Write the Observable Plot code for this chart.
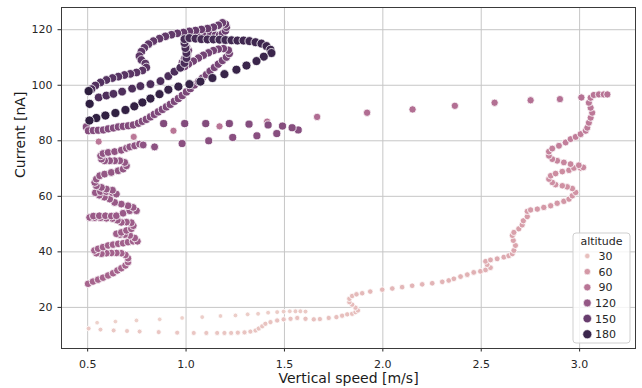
<!DOCTYPE html>
<html>
<head>
<meta charset="utf-8">
<script src="https://cdn.jsdelivr.net/npm/d3@7"></script>
<script src="https://cdn.jsdelivr.net/npm/@observablehq/plot@0.6"></script>
<style>
  body { margin: 0; background: #fff; }
  #chart { width: 642px; height: 388px; }
</style>
</head>
<body>
<div id="chart"></div>
<script>
// ---- data ----
const speed = [
  // low rows
  0.548,0.641,0.748,0.866,0.980,1.082,1.175,1.251,1.313,1.366,1.417,1.463,1.496,1.527,1.556,1.581,1.607,
  0.505,0.565,0.632,0.700,0.764,0.861,0.955,1.039,1.103,1.158,
  1.195,1.229,1.263,1.297,1.327,1.353,1.369,1.387,1.403,1.429,
  1.463,1.496,1.531,1.565,1.607,1.649,1.680,1.725,1.764,1.793,
  1.819,1.844,1.861,1.873,1.861,1.844,1.830,1.830,1.844,1.866,
  1.895,1.936,1.997,2.048,2.098,2.149,2.200,2.251,2.302,2.335,
  2.361,2.395,2.429,2.462,2.496,2.522,2.547,2.530,2.522,2.547,
  2.581,2.615,2.640,2.658,2.666,2.674,2.663,2.658,2.666,2.691,
  2.708,2.714,2.734,2.734,2.751,2.785,2.818,2.853,2.886,2.920,
  2.946,2.963,2.980,2.963,2.937,2.912,2.878,2.861,2.844,2.853,
  2.878,2.912,2.946,2.971,3.005,3.019,2.996,2.954,2.920,2.886,
  2.861,2.844,2.844,2.861,2.895,2.929,2.954,2.980,3.005,3.031,
  3.039,3.047,3.056,3.064,3.056,3.047,3.056,3.072,3.098,3.123,3.141,
  // sparse row
  3.009,2.900,2.751,2.568,2.366,2.151,1.920,1.666,1.412,1.170,0.936,0.734,0.556,
  // left cluster
  0.502,0.527,0.553,0.578,0.604,0.629,0.651,0.671,0.692,0.705,
  0.705,0.692,0.671,0.646,0.620,0.595,0.570,0.544,0.534,0.553,
  0.578,0.604,0.629,0.655,0.680,0.705,0.731,0.753,0.739,0.714,
  0.688,0.663,0.646,0.671,0.697,0.722,0.732,0.722,0.697,0.671,
  0.651,0.626,0.595,0.565,0.534,0.510,0.529,0.559,0.590,0.620,
  0.646,0.680,0.714,0.748,0.731,0.705,0.671,0.637,0.612,0.585,
  0.559,0.539,0.565,0.595,0.626,0.646,0.626,0.595,0.570,0.544,
  0.536,0.544,0.561,0.586,0.620,0.655,0.680,0.697,0.688,0.663,
  0.637,0.612,0.586,0.570,0.566,0.578,0.604,0.637,0.671,0.697,
  0.714,0.739,0.764,0.782,
  // purple sparse rows
  0.840,0.980,1.115,1.237,1.360,1.461,1.570,1.539,1.490,1.417,1.320,1.220,1.100,0.993,0.886,
  // top cluster
  0.493,0.504,0.529,0.554,0.580,0.605,0.631,0.656,0.681,0.707,0.732,0.758,0.778,0.798,0.819,
  0.839,0.859,0.880,0.900,0.920,0.941,0.961,0.981,1.002,1.022,1.042,1.063,1.083,1.103,1.122,
  1.144,1.164,1.185,1.205,1.220,1.215,1.190,1.164,1.139,1.114,1.088,1.063,1.037,1.012,0.992,
  0.981,0.992,1.007,1.012,1.002,0.997,1.002,1.022,1.048,1.073,1.098,1.124,1.149,1.170,1.185,
  1.200,1.205,1.200,1.185,
  1.164,1.139,1.109,1.078,1.048,1.017,0.987,0.956,0.926,0.895,0.865,0.834,0.809,0.788,0.773,
  0.763,0.773,0.793,0.798,0.778,0.748,0.717,0.687,0.656,0.626,0.595,0.565,0.539,0.519,
  0.556,0.595,0.631,0.675,0.726,0.768,0.819,0.870,0.910,0.941,0.971,0.992,1.002,1.002,0.997,0.992,0.992,
  1.017,1.048,1.078,1.109,1.139,1.170,1.200,1.231,1.261,1.292,1.322,1.353,1.383,1.409,1.429,1.434,
  1.395,1.358,1.307,1.256,1.195,1.134,1.073,1.017,0.961,0.910,0.865,0.819,0.778,0.737,0.692,0.641,0.590,0.544,0.509,
  0.510,0.505
];
const current = [
  14.5,14.9,15.3,15.7,16.2,16.5,16.9,17.1,17.5,17.7,18.1,18.3,18.5,18.6,18.6,18.6,18.5,
  12.4,12.0,11.7,11.5,11.3,11.1,10.9,10.8,10.8,10.8,
  10.8,10.8,10.9,11.0,11.3,11.7,12.4,13.2,14.1,14.7,
  15.3,15.7,15.9,16.2,15.9,15.7,15.8,16.2,16.5,17.0,
  17.5,17.7,18.3,18.9,19.9,21.0,21.9,23.1,24.1,24.7,
  25.1,25.7,26.4,26.8,27.3,27.8,28.3,28.7,29.2,29.7,
  30.3,31.1,31.8,32.6,33.0,33.5,34.3,35.4,36.6,37.1,
  37.5,38.1,38.6,39.3,40.5,42.3,44.1,45.9,47.0,48.3,
  49.7,51.2,52.7,54.6,55.1,55.4,56.0,56.6,57.5,58.2,
  59.0,60.2,61.4,62.8,63.4,63.8,64.2,65.0,66.2,67.4,
  68.2,68.9,69.4,70.2,70.2,70.4,71.2,71.6,72.2,72.8,
  73.4,74.6,76.1,77.2,78.2,79.4,80.6,81.4,82.4,83.6,
  84.7,86.5,88.3,90.1,91.9,93.7,95.5,96.5,96.7,96.7,96.7,
  95.6,95.0,94.6,93.7,92.6,91.3,90.1,88.6,86.9,85.2,83.6,81.4,79.7,
  28.5,29.3,30.0,30.7,31.5,32.3,33.3,34.1,35.1,36.3,
  37.7,38.9,39.5,39.6,39.6,39.5,39.3,39.5,40.5,41.1,
  41.7,42.3,42.6,42.9,43.1,43.5,43.8,43.8,45.0,45.9,
  46.2,46.2,46.5,47.0,47.7,48.3,49.4,50.5,50.7,50.6,
  51.4,52.0,52.1,52.3,52.3,52.4,52.9,53.0,53.0,52.9,
  53.0,53.9,54.8,54.8,56.0,56.6,57.2,57.8,59.0,59.7,
  60.4,61.3,61.7,61.7,61.3,60.8,62.2,62.6,63.2,63.8,
  65.0,66.2,67.4,68.0,68.6,69.2,69.8,71.0,72.2,72.8,
  72.8,72.8,72.8,73.4,74.6,75.4,75.8,76.1,76.6,77.3,
  77.8,78.2,78.8,78.5,
  77.8,79.0,80.0,81.2,81.8,82.6,83.9,84.7,85.3,85.7,86.0,86.2,86.2,86.2,86.2,
  85.0,83.6,83.7,83.8,83.9,84.3,84.6,85.0,85.2,85.4,85.7,86.3,87.0,87.7,88.6,
  89.5,90.4,91.3,92.2,93.1,94.2,95.2,96.3,97.6,98.8,100.1,101.3,102.6,103.8,105.1,
  106.4,107.6,108.9,110.1,111.4,112.6,113.2,113.0,112.5,111.7,110.8,109.8,108.7,107.6,106.7,
  108.2,109.6,111.0,112.5,113.9,115.3,116.6,117.5,117.9,118.0,118.2,118.2,118.0,118.0,118.6,
  119.6,120.9,122.0,122.5,
  121.6,120.9,120.4,120.1,119.7,119.4,119.0,118.7,118.2,117.6,116.8,115.9,114.8,113.5,112.1,
  110.5,109.1,107.8,106.4,105.3,104.6,104.1,103.7,103.1,102.6,101.9,101.0,99.9,98.6,
  95.6,96.3,96.9,97.7,98.8,99.7,100.4,101.5,103.3,104.9,106.3,108.0,109.8,111.6,113.4,115.2,116.6,
  117.0,116.8,116.6,116.5,116.5,116.4,116.3,116.2,116.1,116.1,115.9,115.5,115.0,114.1,112.8,111.6,
  110.3,108.7,107.1,105.6,104.0,102.6,101.3,100.4,99.5,98.4,96.8,95.2,93.8,92.4,91.1,90.0,89.1,88.2,87.3,
  93.3,97.9
];
const altitude = [
  16,16,17,17,17,18,18,18,19,19,19,20,20,20,21,21,21,
  22,22,23,23,23,24,24,24,25,25,
  25,25,26,26,26,26,27,27,27,27,
  28,28,28,28,29,29,29,29,30,30,
  30,30,31,31,31,32,32,33,33,34,
  34,35,35,36,36,37,37,38,38,39,
  39,40,40,41,41,42,42,43,44,45,
  46,46,47,48,49,50,51,52,53,54,
  55,56,57,58,58,59,60,60,61,62,
  62,63,64,65,66,66,67,68,68,69,
  70,70,71,72,72,73,74,74,75,76,
  77,77,78,79,80,81,81,82,83,84,
  85,85,86,87,88,88,89,90,91,91,92,
  93,94,94,95,96,96,97,98,92,90,89,88,88,
  106,106,106,106,106,107,107,107,107,107,
  108,108,108,108,108,109,109,109,109,109,
  110,110,110,110,110,111,111,111,111,111,
  112,112,112,112,112,113,113,113,113,113,
  114,114,114,114,114,115,115,115,115,115,
  116,116,116,116,116,117,117,117,117,117,
  118,118,118,118,118,119,119,119,119,119,
  120,120,120,120,120,121,121,121,121,121,
  122,122,122,122,122,123,123,123,123,123,
  124,124,124,124,
  126,127,127,128,128,129,129,130,130,131,131,132,132,133,133,
  130,130,131,131,131,132,132,132,133,133,133,134,134,134,135,
  135,135,136,136,136,137,137,137,138,138,138,139,139,139,140,
  140,140,140,141,141,141,142,142,142,142,143,143,143,143,144,
  144,144,144,145,145,145,145,146,146,146,146,147,147,147,147,
  148,148,148,149,
  150,150,151,151,152,152,153,153,154,154,155,155,156,156,157,
  157,158,158,159,159,160,160,161,162,162,163,164,165,166,
  166,167,167,167,168,168,168,169,169,169,170,170,170,171,171,171,172,
  172,173,173,174,174,175,175,176,176,177,177,178,178,179,179,180,
  180,181,181,182,182,182,183,183,184,184,185,185,186,186,186,187,187,188,188,
  189,190
];
const xTicks = [0.5, 1.0, 1.5, 2.0, 2.5, 3.0];
const yTicks = [20, 40, 60, 80, 100, 120];
const legendAltitudes = [30, 60, 90, 120, 150, 180];

// ---- seaborn default "ch:" cubehelix palette (light .85 -> dark .15) ----
function cubehelix(x) {
  const start = 0, rot = 0.4, hue = 0.8;
  const a = hue * x * (1 - x) / 2;
  const phi = 2 * Math.PI * (start / 3 + rot * x);
  const cl = v => Math.max(0, Math.min(1, v));
  const r = cl(x + a * (-0.14861 * Math.cos(phi) + 1.78277 * Math.sin(phi)));
  const g = cl(x + a * (-0.29227 * Math.cos(phi) - 0.90649 * Math.sin(phi)));
  const b = cl(x + a * (1.97294 * Math.cos(phi)));
  return d3.rgb(r * 255, g * 255, b * 255).formatHex();
}
const interp = t => cubehelix(0.85 - 0.7 * t);

const data = speed.map((s, i) => ({speed: s, current: current[i], altitude: altitude[i]}));
const altDomain = d3.extent(altitude);

const plot = Plot.plot({
  width: 642,
  height: 388,
  marginLeft: 61,
  marginRight: 7,
  marginTop: 7,
  marginBottom: 40,
  style: {fontFamily: "DejaVu Sans", fontSize: "11px", color: "#262626", background: "white"},
  x: {domain: [0.367, 3.284], ticks: xTicks, tickFormat: d3.format(".1f"), tickSize: 3.5, tickPadding: 8, label: null},
  y: {domain: [5.2, 128], ticks: yTicks, tickSize: 3.5, tickPadding: 5.5, label: null},
  color: {type: "linear", domain: altDomain, interpolate: interp},
  r: {type: "sqrt", domain: altDomain, range: [2.3, 4.6]},
  marks: [
    Plot.ruleX(xTicks, {stroke: "#c6c6c6", strokeWidth: 1}),
    Plot.ruleY(yTicks, {stroke: "#c6c6c6", strokeWidth: 1}),
    Plot.dot(data, {x: "speed", y: "current", fill: "altitude", r: "altitude", stroke: "white", strokeWidth: 0.8, sort: null}),
    Plot.frame({stroke: "#3a3a3a", strokeWidth: 1}),
    Plot.text(["Vertical speed [m/s]"], {frameAnchor: "bottom", dy: 34, fontSize: 14, fill: "#1a1a1a"}),
    Plot.text(["Current [nA]"], {frameAnchor: "left", dx: -41, rotate: -90, fontSize: 14, fill: "#1a1a1a"})
  ]
});
document.getElementById("chart").appendChild(plot);

// ---- legend (seaborn style, inside the axes, lower right) ----
const cScale = plot.scale("color");
const rScale = plot.scale("r");
const colorOf = a => (cScale && cScale.apply) ? cScale.apply(a) : interp((a - altDomain[0]) / (altDomain[1] - altDomain[0]));
const radiusOf = a => (rScale && rScale.apply) ? rScale.apply(a) : 2.3 + 2.3 * (Math.sqrt(a) - Math.sqrt(altDomain[0])) / (Math.sqrt(altDomain[1]) - Math.sqrt(altDomain[0]));
const svg = d3.select(plot);
const lg = svg.append("g").attr("font-family", "DejaVu Sans").attr("font-size", 11).attr("fill", "#262626");
lg.append("rect").attr("x", 573).attr("y", 233).attr("width", 57).attr("height", 110).attr("rx", 3)
  .attr("fill", "white").attr("fill-opacity", 0.8).attr("stroke", "#cfcfcf");
lg.append("text").attr("x", 601.5).attr("y", 244.5).attr("text-anchor", "middle").text("altitude");
legendAltitudes.forEach((a, i) => {
  const cy = 256 + i * 15.65;
  lg.append("circle").attr("cx", 587.3).attr("cy", cy).attr("r", radiusOf(a))
    .attr("fill", colorOf(a)).attr("stroke", "white").attr("stroke-width", 0.6);
  lg.append("text").attr("x", 605.5).attr("y", cy + 4).text(a);
});
</script>
</body>
</html>
